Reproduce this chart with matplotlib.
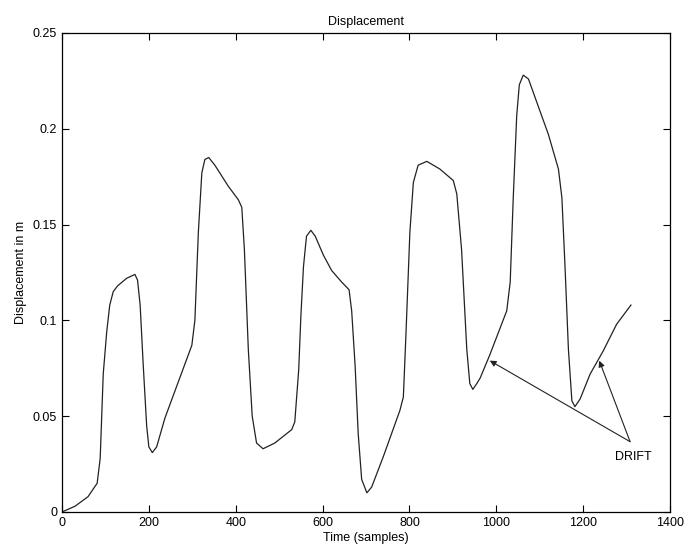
import matplotlib
matplotlib.use('Agg')
import matplotlib.pyplot as plt

plt.rcParams['font.family'] = ['Liberation Sans', 'DejaVu Sans']

# ── Data ──────────────────────────────────────────────────────────────────────
time_samples = [0, 30, 60, 81, 88, 95, 103, 110, 118, 128, 149, 168, 174, 180,
                187, 195, 200, 208, 218, 237, 268, 299, 306, 314, 322, 329,
                338, 352, 383, 406, 414, 420, 429, 438, 448, 463, 490, 529,
                536, 545, 550, 556, 563, 573, 583, 602, 621, 644, 661, 667,
                675, 682, 690, 702, 713, 740, 778, 786, 792, 801, 809, 820,
                840, 870, 901, 909, 920, 932, 939, 946, 955, 963, 985, 1024,
                1032, 1039, 1047, 1053, 1062, 1074, 1093, 1120, 1143, 1151,
                1158, 1166, 1174, 1181, 1193, 1216, 1246, 1277, 1310]
displacement = [0.0, 0.003, 0.008, 0.015, 0.028, 0.072, 0.094, 0.108, 0.115,
                0.118, 0.122, 0.124, 0.121, 0.108, 0.077, 0.045, 0.034, 0.031,
                0.034, 0.049, 0.068, 0.087, 0.100, 0.146, 0.177, 0.184, 0.185,
                0.181, 0.170, 0.163, 0.159, 0.137, 0.085, 0.050, 0.036, 0.033,
                0.036, 0.043, 0.047, 0.074, 0.102, 0.128, 0.144, 0.147, 0.144,
                0.134, 0.126, 0.120, 0.116, 0.105, 0.076, 0.041, 0.017, 0.010,
                0.013, 0.029, 0.053, 0.060, 0.093, 0.146, 0.172, 0.181, 0.183,
                0.179, 0.173, 0.166, 0.137, 0.085, 0.067, 0.064, 0.067, 0.070,
                0.082, 0.105, 0.120, 0.164, 0.207, 0.223, 0.228, 0.226, 0.214,
                0.197, 0.179, 0.164, 0.129, 0.085, 0.058, 0.055, 0.059, 0.072,
                0.084, 0.098, 0.108]

drift_label = 'DRIFT'
drift_text_pos = (1315, 0.0285)
drift_tail = (1308, 0.0367)
drift_heads = [(985, 0.079), (1237, 0.079)]

xticks = [0, 200, 400, 600, 800, 1000, 1200, 1400]
yticks = [0, 0.05, 0.1, 0.15, 0.2, 0.25]

# ── Plot ──────────────────────────────────────────────────────────────────────
fig = plt.figure(figsize=(6.84, 5.48), dpi=100)
ax = fig.add_axes([0.0906, 0.0657, 0.889, 0.8741])

ax.plot(time_samples, displacement, color='#222222', linewidth=0.9,
        solid_joinstyle='round')

for head in drift_heads:
    ax.annotate('', xy=head, xytext=drift_tail,
                arrowprops=dict(arrowstyle='-|>', color='#222222', lw=0.8,
                                mutation_scale=9, shrinkA=0, shrinkB=0))
ax.text(*drift_text_pos, drift_label, ha='center', va='center', fontsize=9)

ax.set_xlim(0, 1400)
ax.set_ylim(0, 0.25)
ax.set_xticks(xticks)
ax.set_yticks(yticks)
ax.set_xticklabels([str(t) for t in xticks])
ax.set_yticklabels(['0', '0.05', '0.1', '0.15', '0.2', '0.25'])
ax.tick_params(direction='in', top=True, right=True, length=5, width=0.8,
               labelsize=9)
for s in ax.spines.values():
    s.set_linewidth(0.9)

ax.set_title('Displacement', fontsize=9, pad=6)
ax.set_xlabel('Time (samples)', fontsize=9, labelpad=2)
ax.set_ylabel('Displacement in m', fontsize=9, labelpad=4)

plt.savefig('out.png', dpi=100)
